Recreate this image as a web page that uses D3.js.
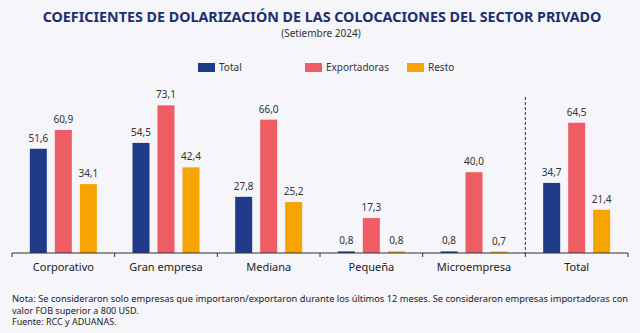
<!DOCTYPE html>
<html>
<head>
<meta charset="utf-8">
<script src="https://cdn.jsdelivr.net/npm/d3@7"></script>
<style>
  html, body { margin: 0; padding: 0; background: #f5f5fa; }
  svg { display: block; font-family: "Noto Sans", "Open Sans", sans-serif; }
</style>
</head>
<body>
<div id="chart-ctn"></div>
<script>
// Data
const categories = ["Corporativo", "Gran empresa", "Mediana", "Pequeña", "Microempresa", "Total"];
const seriesNames = ["Total", "Exportadoras", "Resto"];
const totalValues = [51.6, 54.5, 27.8, 0.8, 0.8, 34.7];
const exportValues = [60.9, 73.1, 66.0, 17.3, 40.0, 64.5];
const restoValues = [34.1, 42.4, 25.2, 0.8, 0.7, 21.4];
const seriesColors = ["#1f3a87", "#ee5d63", "#f5a400"];

let width = 640;
let height = 333;

const svg = d3.select("#chart-ctn")
    .append("svg")
    .attr("width", width)
    .attr("height", height);

svg.append("rect").attr("width", width).attr("height", height).attr("fill", "#f5f5fa");

// Title
svg.append("text")
    .attr("x", 322)
    .attr("y", 22)
    .attr("text-anchor", "middle")
    .style("font-size", "14.3px")
    .style("font-weight", "bold")
    .style("fill", "#1c2f6e")
    .text("COEFICIENTES DE DOLARIZACIÓN DE LAS COLOCACIONES DEL SECTOR PRIVADO");

svg.append("text")
    .attr("x", 321)
    .attr("y", 37)
    .attr("text-anchor", "middle")
    .style("font-size", "10px")
    .style("fill", "#333")
    .text("(Setiembre 2024)");

// Legend
const legendX = [198, 305, 407];
const legend = svg.append("g")
    .selectAll("g")
    .data(seriesNames)
    .join("g")
    .attr("transform", (d, i) => `translate(${legendX[i]}, 63)`);
legend.append("rect")
    .attr("width", 17)
    .attr("height", 9)
    .attr("fill", (d, i) => seriesColors[i]);
legend.append("text")
    .attr("x", 21)
    .attr("y", 8)
    .style("font-size", "10px")
    .style("fill", "#333")
    .text((d) => d);

// Scales
const baseY = 253;
const x = d3.scaleBand().domain(categories).range([12, 628]).padding(0);
const xSub = d3.scaleBand().domain(seriesNames).range([-37.5, 37.5]).paddingInner(0.32).paddingOuter(0.16);
const y = d3.scaleLinear().domain([0, 80]).range([baseY, baseY - 161.6]);

const rows = categories.map((c, i) => ({
    cat: c,
    values: [totalValues[i], exportValues[i], restoValues[i]]
}));

const groups = svg.append("g")
    .selectAll("g")
    .data(rows)
    .join("g")
    .attr("transform", (d) => `translate(${x(d.cat) + x.bandwidth() / 2}, 0)`);

const bars = groups.selectAll("g")
    .data((d) => d.values.map((v, i) => ({ name: seriesNames[i], value: v, color: seriesColors[i] })))
    .join("g");

bars.append("rect")
    .attr("x", (d) => xSub(d.name))
    .attr("width", xSub.bandwidth())
    .attr("y", (d) => y(d.value))
    .attr("height", (d) => baseY - y(d.value))
    .attr("fill", (d) => d.color);

bars.append("text")
    .attr("x", (d) => xSub(d.name) + xSub.bandwidth() / 2)
    .attr("y", (d) => y(d.value) - 7)
    .attr("text-anchor", "middle")
    .style("font-size", "10px")
    .style("fill", "#333")
    .text((d) => d3.format(".1f")(d.value).replace(".", ","));

// Separator before the Total group
svg.append("line")
    .attr("x1", x("Total"))
    .attr("x2", x("Total"))
    .attr("y1", 97)
    .attr("y2", baseY)
    .attr("stroke", "#333")
    .attr("stroke-width", 1)
    .attr("stroke-dasharray", "3,2");

// Axis with ticks at category edges
const axis = svg.append("g").attr("transform", `translate(0, ${baseY})`);
axis.append("line")
    .attr("x1", 12).attr("x2", 628)
    .attr("stroke", "#333");
const edges = categories.map((c) => x(c)).concat([x.range()[1]]);
axis.selectAll(".edge")
    .data(edges)
    .join("line")
    .attr("class", "edge")
    .attr("x1", (d) => d).attr("x2", (d) => d)
    .attr("y1", 0).attr("y2", 4)
    .attr("stroke", "#333");
axis.call(d3.axisBottom(x).tickSize(0).tickPadding(10))
    .call((g) => g.select(".domain").remove())
    .selectAll("text")
    .style("font-size", "11px")
    .style("font-family", "\"Noto Sans\", sans-serif")
    .style("fill", "#222");

// Notes (first line squeezed to the axis width)
const notes = [
    "Nota: Se consideraron solo empresas que importaron/exportaron durante los últimos 12 meses. Se consideraron empresas importadoras con",
    "valor FOB superior a 800 USD.",
    "Fuente: RCC y ADUANAS."
];
svg.append("g")
    .selectAll("text")
    .data(notes)
    .join("text")
    .attr("x", 12)
    .attr("y", (d, i) => 302 + i * 11.5)
    .style("font-size", "9px")
    .style("fill", "#222")
    .text((d) => d)
    .filter((d, i) => i === 0)
    .attr("textLength", 616)
    .attr("lengthAdjust", "spacingAndGlyphs");
</script>
</body>
</html>
